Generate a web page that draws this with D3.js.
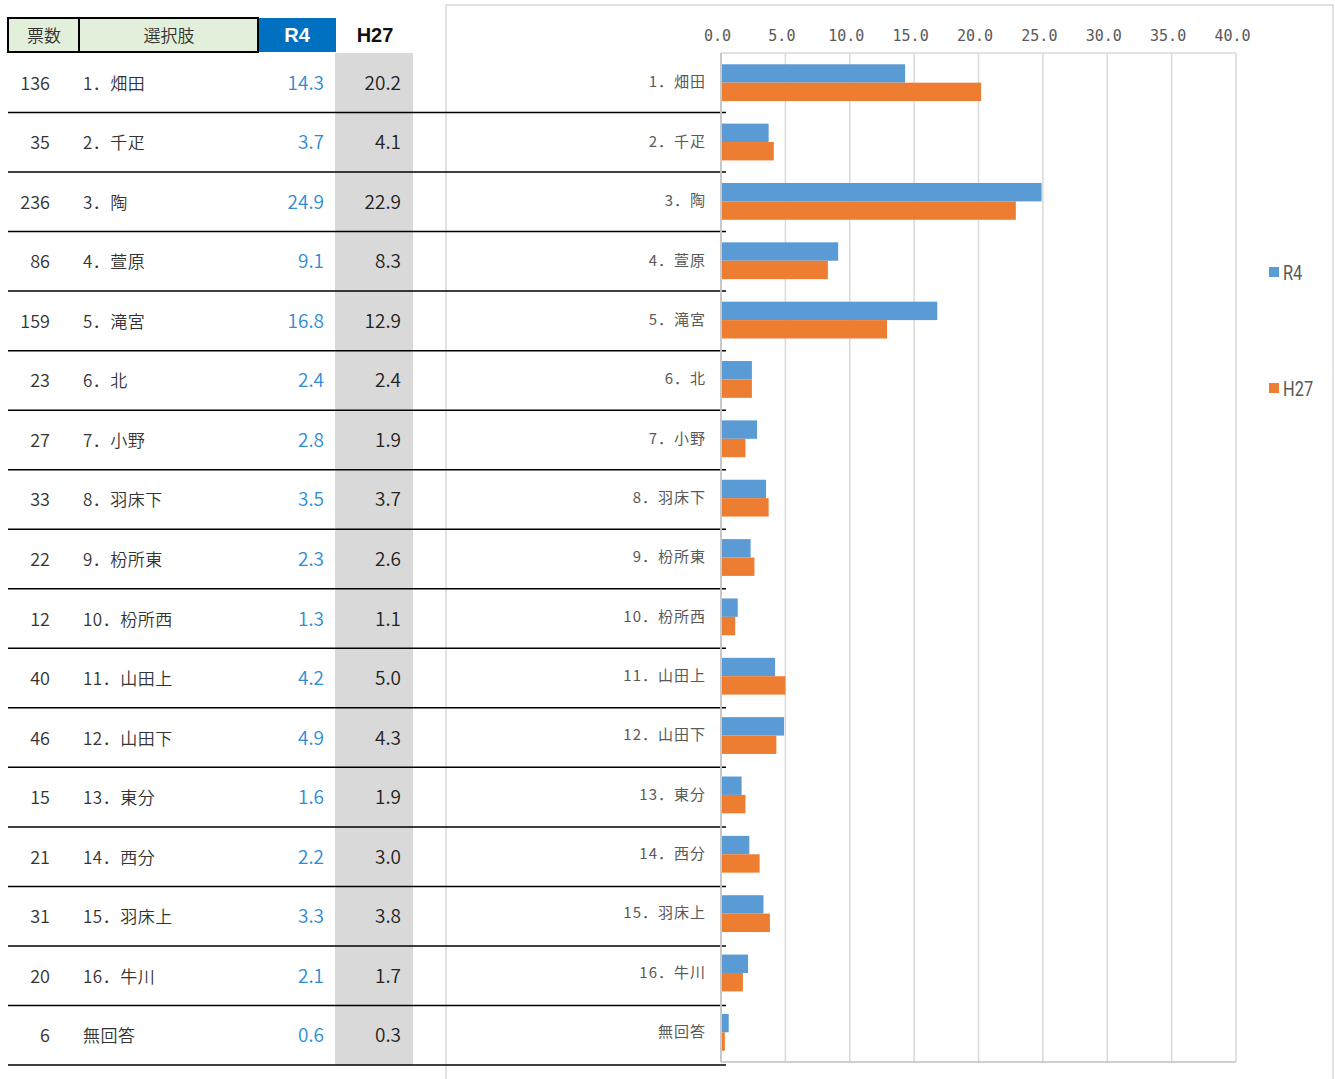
<!DOCTYPE html>
<html><head><meta charset="utf-8">
<script src="https://cdn.jsdelivr.net/npm/d3@7"></script>
<style>body{margin:0;background:#fff}svg{display:block}</style>
</head><body><div id="c"></div>
<script>
const votes = [136,35,236,86,159,23,27,33,22,12,40,46,15,21,31,20,6];
const categories = ["1．畑田","2．千疋","3．陶","4．萱原","5．滝宮","6．北","7．小野","8．羽床下","9．枌所東","10．枌所西","11．山田上","12．山田下","13．東分","14．西分","15．羽床上","16．牛川","無回答"];
const r4 = [14.3,3.7,24.9,9.1,16.8,2.4,2.8,3.5,2.3,1.3,4.2,4.9,1.6,2.2,3.3,2.1,0.6];
const h27 = [20.2,4.1,22.9,8.3,12.9,2.4,1.9,3.7,2.6,1.1,5.0,4.3,1.9,3.0,3.8,1.7,0.3];
const series = ["R4","H27"];
const colors = ["#5B9BD5","#ED7D31"];
const xTicks = [0,5,10,15,20,25,30,35,40];

const W=1335,H=1079;
const svg=d3.select("#c").append("svg").attr("width",W).attr("height",H);
const jp="'Noto Sans CJK JP','Noto Sans',sans-serif";

// chart outer border
svg.append("rect").attr("x",446).attr("y",5).attr("width",887).attr("height",1090)
  .attr("fill","none").attr("stroke","#d9d9d9").attr("stroke-width",1.5);

// table
const rowY=d3.scaleBand().domain(categories).range([53,1065]);
svg.append("rect").attr("x",335).attr("y",53).attr("width",78).attr("height",1012).attr("fill","#d9d9d9");
// header
svg.append("rect").attr("x",8).attr("y",18).attr("width",71).attr("height",34).attr("fill","#e2efda").attr("stroke","#000").attr("stroke-width",2);
svg.append("rect").attr("x",79).attr("y",18).attr("width",179).attr("height",34).attr("fill","#e2efda").attr("stroke","#000").attr("stroke-width",2);
svg.append("rect").attr("x",259).attr("y",18).attr("width",77).attr("height",34).attr("fill","#0070c0");
const hdr=[["票数",44,"#333",350],["選択肢",169,"#333",350],["R4",297,"#fff",700],["H27",375,"#111",700]];
hdr.forEach(h=>svg.append("text").attr("x",h[1]).attr("y",42).attr("text-anchor","middle")
  .attr("font-family",h[3]==700?"'Liberation Sans',Arial,sans-serif":jp).attr("font-size",h[3]==700?20:17)
  .attr("font-weight",h[3]).attr("fill",h[2]).text(h[0]));

const rows=svg.append("g").attr("font-family",jp).attr("font-weight",350);
categories.forEach((c,i)=>{
  const cy=rowY(c)+rowY.bandwidth()/2+7;
  rows.append("text").attr("x",50).attr("y",cy).attr("text-anchor","end").attr("font-size",18).attr("fill","#333").text(votes[i]);
  rows.append("text").attr("x",83).attr("y",cy).attr("font-size",17).attr("letter-spacing",0.5).attr("fill","#333").text(c);
  rows.append("text").attr("x",324).attr("y",cy).attr("text-anchor","end").attr("font-size",19).attr("fill","#2e8bd6").text(r4[i].toFixed(1));
  rows.append("text").attr("x",401).attr("y",cy).attr("text-anchor","end").attr("font-size",19).attr("fill","#222").text(h27[i].toFixed(1));
  rows.append("line").attr("x1",8).attr("x2",726).attr("y1",rowY(c)+rowY.bandwidth()).attr("y2",rowY(c)+rowY.bandwidth())
    .attr("stroke","#000").attr("stroke-width",1.5);
});

// bar chart
const x=d3.scaleLinear().domain([0,40]).range([721,1236]);
const y=d3.scaleBand().domain(categories).range([53,1062]).paddingInner(0.38).paddingOuter(0.19);
const ys=d3.scaleBand().domain(series).range([0,y.bandwidth()]);
const g=svg.append("g");
g.selectAll(".grid").data(xTicks).join("line").attr("x1",d=>x(d)).attr("x2",d=>x(d)).attr("y1",53).attr("y2",1062)
  .attr("stroke","#d9d9d9").attr("stroke-width",1.5);
g.append("line").attr("x1",721).attr("x2",1236).attr("y1",53).attr("y2",53).attr("stroke","#d9d9d9").attr("stroke-width",1.5);
g.append("line").attr("x1",721).attr("x2",1236).attr("y1",1062).attr("y2",1062).attr("stroke","#bfbfbf").attr("stroke-width",1.5);
g.append("line").attr("x1",721).attr("x2",721).attr("y1",53).attr("y2",1062).attr("stroke","#bfbfbf").attr("stroke-width",1.5);
const vals=[r4,h27];
series.forEach((s,si)=>{
  g.selectAll(".b"+si).data(categories).join("rect")
    .attr("x",x(0)+1).attr("y",c=>y(c)+ys(s)).attr("height",ys.bandwidth())
    .attr("width",(c,i)=>x(vals[si][i])-x(0)-1).attr("fill",colors[si]);
});
const xa=svg.append("g").attr("transform","translate(-4,53)").call(d3.axisTop(x).tickValues(xTicks).tickFormat(d3.format(".1f")).tickSize(0).tickPadding(12));
xa.select(".domain").remove();
xa.selectAll("text").attr("font-family","'DejaVu Sans Mono',monospace").attr("font-size",15).attr("fill","#595959");
const ya=svg.append("g").attr("transform","translate(721,0)").call(d3.axisLeft(y).tickSize(0).tickPadding(15));
ya.select(".domain").remove();
ya.selectAll("text").attr("font-family",jp).attr("font-size",15).attr("letter-spacing",1).attr("fill","#595959");

// legend
const lg=svg.append("g");
series.forEach((s,i)=>{
  const ly=[272,388][i];
  lg.append("rect").attr("x",1269).attr("y",ly-5).attr("width",10).attr("height",10).attr("fill",colors[i]);
  lg.append("text").attr("transform",`translate(1283,${ly+8}) scale(0.82,1)`).attr("font-family","'Roboto',sans-serif").attr("font-size",20).attr("fill","#595959").text(s);
});
</script></body></html>
